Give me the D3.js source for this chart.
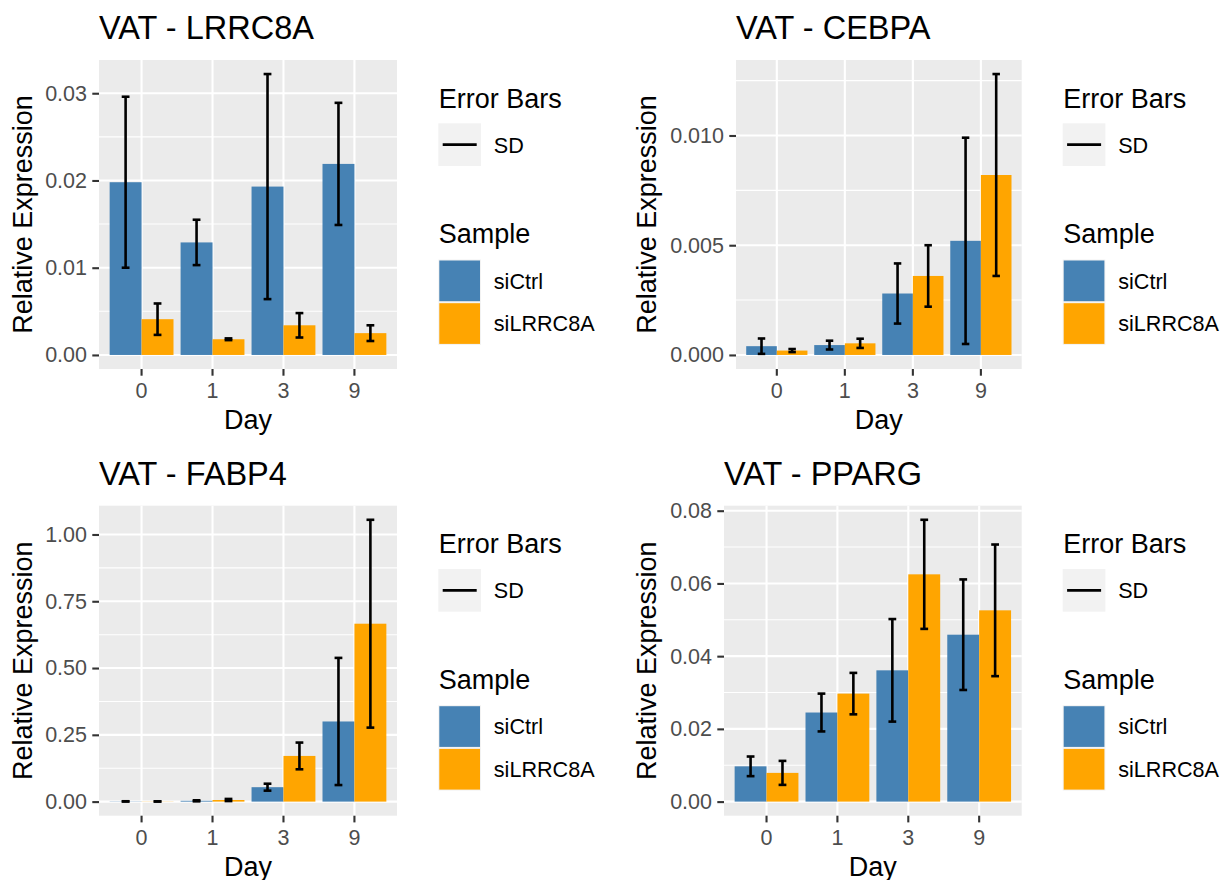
<!DOCTYPE html>
<html>
<head>
<meta charset="utf-8">
<script src="https://cdn.jsdelivr.net/npm/d3@7"></script>
<style>
  body { margin: 0; background: #ffffff; }
  svg { display: block; }
  text { font-family: "Liberation Sans", Arial, Helvetica, sans-serif; }
</style>
</head>
<body>
<svg id="chart" width="1227" height="880"></svg>
<script>
// ---- data ----
const days = ["0", "1", "3", "9"];
const samples = ["siCtrl", "siLRRC8A"];
const sampleColors = ["#4682B4", "#FFA500"];

// LRRC8A
const lrrc8aCtrlMean = [0.0198, 0.0129, 0.0193, 0.0219];
const lrrc8aCtrlSD   = [0.0098, 0.0026, 0.0129, 0.0070];
const lrrc8aKdMean   = [0.0041, 0.0018, 0.0034, 0.0025];
const lrrc8aKdSD     = [0.0018, 0.0001, 0.0014, 0.0009];
const lrrc8aTicks    = [0, 0.01, 0.02, 0.03];

// CEBPA
const cebpaCtrlMean = [0.0004, 0.00045, 0.0028, 0.0052];
const cebpaCtrlSD   = [0.00035, 0.0002, 0.00137, 0.0047];
const cebpaKdMean   = [0.0002, 0.00053, 0.0036, 0.0082];
const cebpaKdSD     = [0.00007, 0.00021, 0.0014, 0.0046];
const cebpaTicks    = [0, 0.005, 0.010];

// FABP4
const fabp4CtrlMean = [0.0008, 0.003, 0.054, 0.300];
const fabp4CtrlSD   = [0.0005, 0.002, 0.013, 0.238];
const fabp4KdMean   = [0.0006, 0.006, 0.171, 0.666];
const fabp4KdSD     = [0.0004, 0.004, 0.050, 0.389];
const fabp4Ticks    = [0, 0.25, 0.50, 0.75, 1.00];

// PPARG
const ppargCtrlMean = [0.0097, 0.0245, 0.0361, 0.0459];
const ppargCtrlSD   = [0.0027, 0.0052, 0.0141, 0.0152];
const ppargKdMean   = [0.0079, 0.0297, 0.0625, 0.0526];
const ppargKdSD     = [0.0033, 0.0057, 0.0150, 0.0181];
const ppargTicks    = [0, 0.02, 0.04, 0.06, 0.08];

const errorLabel = "SD";

// ---- layout of the four panels ----
const panels = [
  { title: "VAT - LRRC8A", mean: [lrrc8aCtrlMean, lrrc8aKdMean], sd: [lrrc8aCtrlSD, lrrc8aKdSD],
    ticks: lrrc8aTicks, fmt: ".2f", x0: 99, x1: 397, y0: 60, y1: 369, yTitleX: 31.5, legX: 438.3 },
  { title: "VAT - CEBPA", mean: [cebpaCtrlMean, cebpaKdMean], sd: [cebpaCtrlSD, cebpaKdSD],
    ticks: cebpaTicks, fmt: ".3f", x0: 736, x1: 1021.7, y0: 60, y1: 369, yTitleX: 656, legX: 1062.7 },
  { title: "VAT - FABP4", mean: [fabp4CtrlMean, fabp4KdMean], sd: [fabp4CtrlSD, fabp4KdSD],
    ticks: fabp4Ticks, fmt: ".2f", x0: 99, x1: 397, y0: 505.7, y1: 815.7, yTitleX: 31.5, legX: 438.3 },
  { title: "VAT - PPARG", mean: [ppargCtrlMean, ppargKdMean], sd: [ppargCtrlSD, ppargKdSD],
    ticks: ppargTicks, fmt: ".2f", x0: 724, x1: 1021.7, y0: 505.7, y1: 815.7, yTitleX: 656, legX: 1062.7 }
];

const svg = d3.select("#chart");
svg.append("rect").attr("width", 1227).attr("height", 880).attr("fill", "#ffffff");

const FS_TITLE = 32.5, FS_AXIS_TITLE = 27, FS_TICK = 21.5, FS_LEG_TITLE = 27, FS_LEG = 21.6;
const MAJOR_W = 2.1, MINOR_W = 1.05, ERR_W = 2.6;

function drawPanel(p) {
  const g = svg.append("g");

  // rows of data for bars and error bars
  const rows = [];
  days.forEach((d, i) => samples.forEach((s, j) => {
    rows.push({ day: d, sample: s, si: j, mean: p.mean[j][i], sd: p.sd[j][i] });
  }));

  const ymax = d3.max(rows, r => r.mean + r.sd);
  const y = d3.scaleLinear()
    .domain([-0.05 * ymax, 1.05 * ymax])
    .range([p.y1, p.y0]);

  const x = d3.scaleBand().domain(days).range([p.x0, p.x1])
    .paddingInner(0).paddingOuter(0.1);
  const step = x.step();
  const xs = d3.scaleBand().domain(samples).range([0.05 * step, 0.95 * step]).padding(0);

  // panel background
  g.append("rect")
    .attr("x", p.x0).attr("y", p.y0)
    .attr("width", p.x1 - p.x0).attr("height", p.y1 - p.y0)
    .attr("fill", "#EBEBEB");

  // minor grid lines halfway between major breaks
  const dt = p.ticks[1] - p.ticks[0];
  const minor = [];
  for (let k = -1; k < p.ticks.length; k++) {
    const v = p.ticks[0] + (k + 0.5) * dt;
    if (v > y.domain()[0] && v < y.domain()[1]) minor.push(v);
  }
  g.selectAll(".minor").data(minor).join("line")
    .attr("x1", p.x0).attr("x2", p.x1)
    .attr("y1", d => y(d)).attr("y2", d => y(d))
    .attr("stroke", "#ffffff").attr("stroke-width", MINOR_W);

  // major grid lines
  g.selectAll(".majorY").data(p.ticks).join("line")
    .attr("x1", p.x0).attr("x2", p.x1)
    .attr("y1", d => y(d)).attr("y2", d => y(d))
    .attr("stroke", "#ffffff").attr("stroke-width", MAJOR_W);
  g.selectAll(".majorX").data(days).join("line")
    .attr("x1", d => x(d) + step / 2).attr("x2", d => x(d) + step / 2)
    .attr("y1", p.y0).attr("y2", p.y1)
    .attr("stroke", "#ffffff").attr("stroke-width", MAJOR_W);

  // bars
  g.selectAll(".bar").data(rows).join("rect")
    .attr("x", r => x(r.day) + xs(r.sample))
    .attr("width", xs.bandwidth())
    .attr("y", r => y(Math.max(0, r.mean)))
    .attr("height", r => Math.abs(y(0) - y(r.mean)))
    .attr("fill", r => sampleColors[r.si]);

  // error bars (mean ± SD)
  const capHalf = 0.055 * step;
  const eb = g.selectAll(".eb").data(rows).join("g")
    .attr("stroke", "#000000").attr("stroke-width", ERR_W).attr("fill", "none");
  const cx = r => x(r.day) + xs(r.sample) + xs.bandwidth() / 2;
  eb.append("line")
    .attr("x1", cx).attr("x2", cx)
    .attr("y1", r => y(r.mean + r.sd)).attr("y2", r => y(r.mean - r.sd));
  eb.append("line")
    .attr("x1", r => cx(r) - capHalf).attr("x2", r => cx(r) + capHalf)
    .attr("y1", r => y(r.mean + r.sd)).attr("y2", r => y(r.mean + r.sd));
  eb.append("line")
    .attr("x1", r => cx(r) - capHalf).attr("x2", r => cx(r) + capHalf)
    .attr("y1", r => y(r.mean - r.sd)).attr("y2", r => y(r.mean - r.sd));

  // y axis
  const yAxis = g.append("g").attr("transform", `translate(${p.x0},0)`)
    .call(d3.axisLeft(y).tickValues(p.ticks).tickFormat(d3.format(p.fmt))
      .tickSize(6.7).tickPadding(5.3));
  yAxis.select(".domain").remove();
  yAxis.selectAll(".tick line").attr("stroke", "#333333").attr("stroke-width", MAJOR_W);
  yAxis.selectAll(".tick text").attr("fill", "#4D4D4D")
    .style("font-size", FS_TICK + "px").style("font-family", '"Liberation Sans", Arial, sans-serif');

  // x axis
  const xAxis = g.append("g").attr("transform", `translate(0,${p.y1})`)
    .call(d3.axisBottom(x).tickSize(6.7).tickPadding(5));
  xAxis.select(".domain").remove();
  xAxis.selectAll(".tick line").attr("stroke", "#333333").attr("stroke-width", MAJOR_W);
  xAxis.selectAll(".tick text").attr("fill", "#4D4D4D").attr("dy", null).attr("y", 29)
    .style("font-size", FS_TICK + "px").style("font-family", '"Liberation Sans", Arial, sans-serif');

  // titles
  g.append("text").attr("x", p.x0).attr("y", p.y0 - 20.7)
    .attr("fill", "#000000").style("font-size", FS_TITLE + "px").text(p.title);
  g.append("text").attr("x", (p.x0 + p.x1) / 2).attr("y", p.y1 + 59.8)
    .attr("text-anchor", "middle").attr("fill", "#000000")
    .style("font-size", FS_AXIS_TITLE + "px").text("Day");
  g.append("text")
    .attr("transform", `translate(${p.yTitleX},${(p.y0 + p.y1) / 2}) rotate(-90)`)
    .attr("text-anchor", "middle").attr("fill", "#000000")
    .style("font-size", FS_AXIS_TITLE + "px").text("Relative Expression");

  // legends
  const L = g.append("g").attr("transform", `translate(${p.legX},${p.y0})`);
  const key = 42.7;
  L.append("text").attr("x", 0.5).attr("y", 47.8).attr("fill", "#000")
    .style("font-size", FS_LEG_TITLE + "px").text("Error Bars");
  L.append("rect").attr("x", 0).attr("y", 63.3).attr("width", key).attr("height", key).attr("fill", "#F2F2F2");
  L.append("line").attr("x1", 4.4).attr("x2", 38.4).attr("y1", 63.3 + key / 2).attr("y2", 63.3 + key / 2)
    .attr("stroke", "#000").attr("stroke-width", ERR_W);
  L.append("text").attr("x", 55.5).attr("y", 92.5).attr("fill", "#000")
    .style("font-size", FS_LEG + "px").text(errorLabel);

  L.append("text").attr("x", 0.5).attr("y", 183.3).attr("fill", "#000")
    .style("font-size", FS_LEG_TITLE + "px").text("Sample");
  samples.forEach((s, j) => {
    const ky = 199.5 + j * key;
    L.append("rect").attr("x", 0).attr("y", ky).attr("width", key).attr("height", key).attr("fill", "#F2F2F2");
    L.append("rect").attr("x", 1).attr("y", ky + 1).attr("width", key - 2).attr("height", key - 2)
      .attr("fill", sampleColors[j]);
    L.append("text").attr("x", 55.5).attr("y", ky + key / 2 + 7.7).attr("fill", "#000")
      .style("font-size", FS_LEG + "px").text(s);
  });
}

panels.forEach(drawPanel);
</script>
</body>
</html>
